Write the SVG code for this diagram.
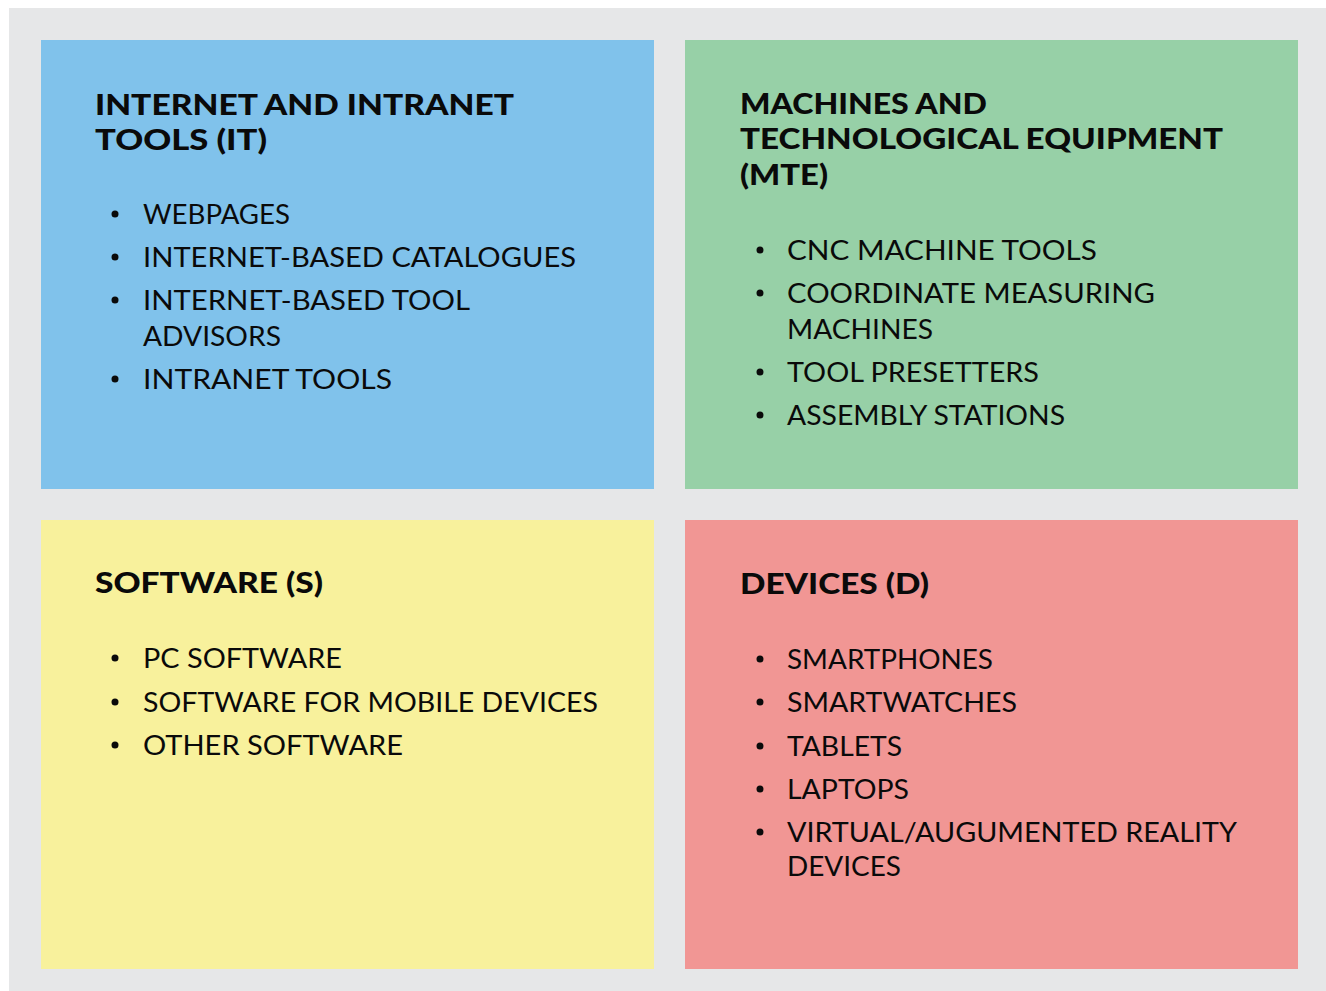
<svg xmlns="http://www.w3.org/2000/svg" width="1326" height="991" viewBox="0 0 1326 991">
<style>
.t{font-family:Lato,"Liberation Sans",sans-serif;font-weight:900;font-size:28px;fill:#0a0a0a}
.i{font-family:Lato,"Liberation Sans",sans-serif;font-size:27px;fill:#0a0a0a}
.b{fill:#0a0a0a}
</style>
<rect x="0" y="0" width="1326" height="991" fill="#ffffff"/>
<rect x="9" y="8" width="1317" height="983" fill="#E6E7E8"/>
<g id="it">
<rect x="41" y="40" width="613" height="449" fill="#80C2EB"/>
<text class="t" x="95" y="115" textLength="419" lengthAdjust="spacingAndGlyphs">INTERNET AND INTRANET</text>
<text class="t" x="95" y="150" textLength="172" lengthAdjust="spacingAndGlyphs">TOOLS (IT)</text>
<circle class="b" cx="115" cy="214" r="3.5"/>
<text class="i" x="143" y="224" textLength="147" lengthAdjust="spacingAndGlyphs">WEBPAGES</text>
<circle class="b" cx="115" cy="257" r="3.5"/>
<text class="i" x="143" y="267" textLength="433" lengthAdjust="spacingAndGlyphs">INTERNET-BASED CATALOGUES</text>
<circle class="b" cx="115" cy="300" r="3.5"/>
<text class="i" x="143" y="310" textLength="327" lengthAdjust="spacingAndGlyphs">INTERNET-BASED TOOL</text>
<text class="i" x="143" y="346" textLength="138" lengthAdjust="spacingAndGlyphs">ADVISORS</text>
<circle class="b" cx="115" cy="379" r="3.5"/>
<text class="i" x="143" y="389" textLength="249" lengthAdjust="spacingAndGlyphs">INTRANET TOOLS</text>
</g>
<g id="mte">
<rect x="685" y="40" width="613" height="449" fill="#97D0A7"/>
<text class="t" x="740" y="114" textLength="247" lengthAdjust="spacingAndGlyphs">MACHINES AND</text>
<text class="t" x="740" y="149" textLength="483" lengthAdjust="spacingAndGlyphs">TECHNOLOGICAL EQUIPMENT</text>
<text class="t" x="740" y="185" textLength="88" lengthAdjust="spacingAndGlyphs">(MTE)</text>
<circle class="b" cx="760" cy="250" r="3.5"/>
<text class="i" x="787" y="260" textLength="310" lengthAdjust="spacingAndGlyphs">CNC MACHINE TOOLS</text>
<circle class="b" cx="760" cy="293" r="3.5"/>
<text class="i" x="787" y="303" textLength="368" lengthAdjust="spacingAndGlyphs">COORDINATE MEASURING</text>
<text class="i" x="787" y="339" textLength="146" lengthAdjust="spacingAndGlyphs">MACHINES</text>
<circle class="b" cx="760" cy="372" r="3.5"/>
<text class="i" x="787" y="382" textLength="252" lengthAdjust="spacingAndGlyphs">TOOL PRESETTERS</text>
<circle class="b" cx="760" cy="415" r="3.5"/>
<text class="i" x="787" y="425" textLength="278" lengthAdjust="spacingAndGlyphs">ASSEMBLY STATIONS</text>
</g>
<g id="software">
<rect x="41" y="520" width="613" height="449" fill="#F8F19C"/>
<text class="t" x="95" y="593" textLength="228" lengthAdjust="spacingAndGlyphs">SOFTWARE (S)</text>
<circle class="b" cx="115" cy="658" r="3.5"/>
<text class="i" x="143" y="668" textLength="199" lengthAdjust="spacingAndGlyphs">PC SOFTWARE</text>
<circle class="b" cx="115" cy="702" r="3.5"/>
<text class="i" x="143" y="712" textLength="455" lengthAdjust="spacingAndGlyphs">SOFTWARE FOR MOBILE DEVICES</text>
<circle class="b" cx="115" cy="745" r="3.5"/>
<text class="i" x="143" y="755" textLength="260" lengthAdjust="spacingAndGlyphs">OTHER SOFTWARE</text>
</g>
<g id="devices">
<rect x="685" y="520" width="613" height="449" fill="#F19694"/>
<text class="t" x="740" y="594" textLength="189" lengthAdjust="spacingAndGlyphs">DEVICES (D)</text>
<circle class="b" cx="760" cy="659" r="3.5"/>
<text class="i" x="787" y="669" textLength="206" lengthAdjust="spacingAndGlyphs">SMARTPHONES</text>
<circle class="b" cx="760" cy="702" r="3.5"/>
<text class="i" x="787" y="712" textLength="230" lengthAdjust="spacingAndGlyphs">SMARTWATCHES</text>
<circle class="b" cx="760" cy="746" r="3.5"/>
<text class="i" x="787" y="756" textLength="115" lengthAdjust="spacingAndGlyphs">TABLETS</text>
<circle class="b" cx="760" cy="789" r="3.5"/>
<text class="i" x="787" y="799" textLength="122" lengthAdjust="spacingAndGlyphs">LAPTOPS</text>
<circle class="b" cx="760" cy="832" r="3.5"/>
<text class="i" x="787" y="842" textLength="450" lengthAdjust="spacingAndGlyphs">VIRTUAL/AUGUMENTED REALITY</text>
<text class="i" x="787" y="876" textLength="114" lengthAdjust="spacingAndGlyphs">DEVICES</text>
</g>
<g id="connectors"/>
</svg>
